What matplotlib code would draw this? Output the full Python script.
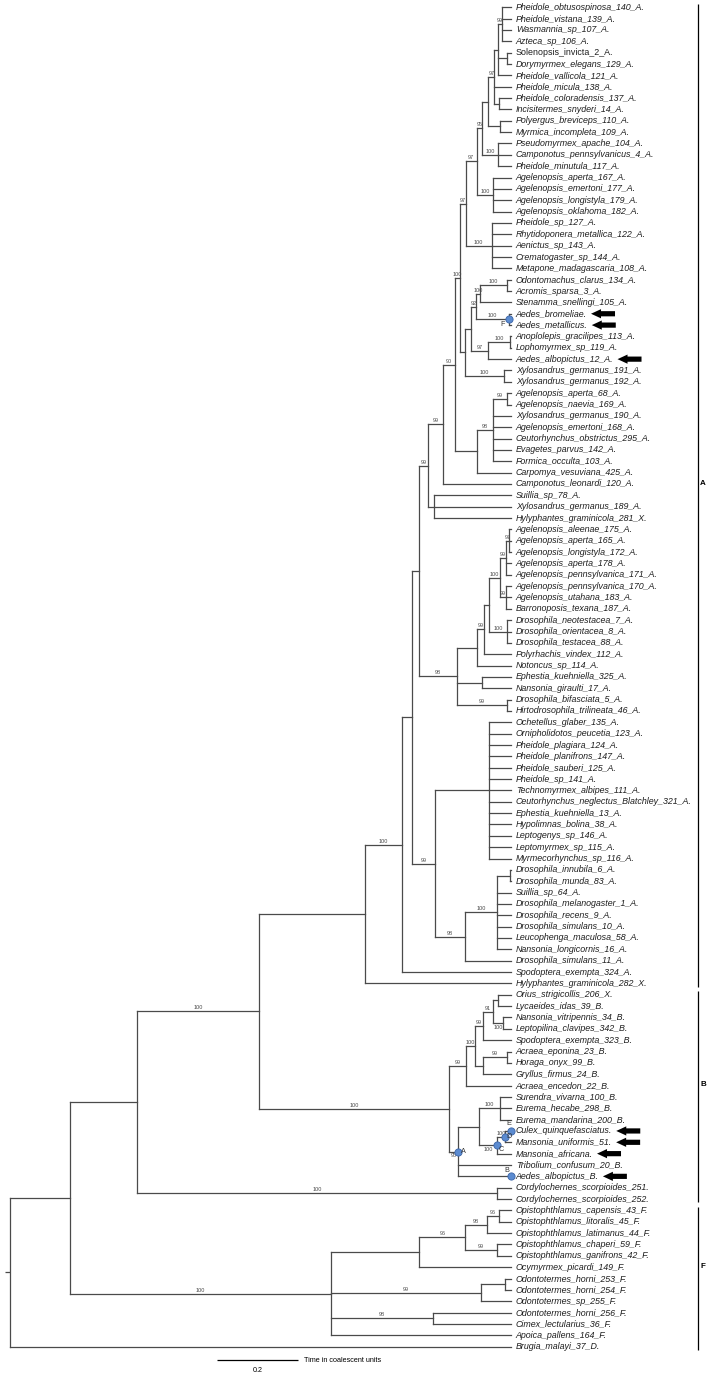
import matplotlib.pyplot as plt
from matplotlib.patches import Polygon

plt.rcParams['font.family'] = ['Liberation Sans', 'DejaVu Sans']

# tip labels, top to bottom
leaf_names = [
    "Pheidole_obtusospinosa_140_A.", "Pheidole_vistana_139_A.", "Wasmannia_sp_107_A.", "Azteca_sp_106_A.",
    "Solenopsis_invicta_2_A.", "Dorymyrmex_elegans_129_A.", "Pheidole_vallicola_121_A.", "Pheidole_micula_138_A.",
    "Pheidole_coloradensis_137_A.", "Incisitermes_snyderi_14_A.", "Polyergus_breviceps_110_A.",
    "Myrmica_incompleta_109_A.", "Pseudomyrmex_apache_104_A.", "Camponotus_pennsylvanicus_4_A.",
    "Pheidole_minutula_117_A.", "Agelenopsis_aperta_167_A.", "Agelenopsis_emertoni_177_A.",
    "Agelenopsis_longistyla_179_A.", "Agelenopsis_oklahoma_182_A.", "Pheidole_sp_127_A.",
    "Rhytidoponera_metallica_122_A.", "Aenictus_sp_143_A.", "Crematogaster_sp_144_A.",
    "Metapone_madagascaria_108_A.", "Odontomachus_clarus_134_A.", "Acromis_sparsa_3_A.",
    "Stenamma_snellingi_105_A.", "Aedes_bromeliae.", "Aedes_metallicus.", "Anoplolepis_gracilipes_113_A.",
    "Lophomyrmex_sp_119_A.", "Aedes_albopictus_12_A.", "Xylosandrus_germanus_191_A.",
    "Xylosandrus_germanus_192_A.", "Agelenopsis_aperta_68_A.", "Agelenopsis_naevia_169_A.",
    "Xylosandrus_germanus_190_A.", "Agelenopsis_emertoni_168_A.", "Ceutorhynchus_obstrictus_295_A.",
    "Evagetes_parvus_142_A.", "Formica_occulta_103_A.", "Carpomya_vesuviana_425_A.",
    "Camponotus_leonardi_120_A.", "Suillia_sp_78_A.", "Xylosandrus_germanus_189_A.",
    "Hylyphantes_graminicola_281_X.", "Agelenopsis_aleenae_175_A.", "Agelenopsis_aperta_165_A.",
    "Agelenopsis_longistyla_172_A.", "Agelenopsis_aperta_178_A.", "Agelenopsis_pennsylvanica_171_A.",
    "Agelenopsis_pennsylvanica_170_A.", "Agelenopsis_utahana_183_A.", "Barronoposis_texana_187_A.",
    "Drosophila_neotestacea_7_A.", "Drosophila_orientacea_8_A.", "Drosophila_testacea_88_A.",
    "Polyrhachis_vindex_112_A.", "Notoncus_sp_114_A.", "Ephestia_kuehniella_325_A.",
    "Nansonia_giraulti_17_A.", "Drosophila_bifasciata_5_A.", "Hirtodrosophila_trilineata_46_A.",
    "Ochetellus_glaber_135_A.", "Ornipholidotos_peucetia_123_A.", "Pheidole_plagiara_124_A.",
    "Pheidole_planifrons_147_A.", "Pheidole_sauberi_125_A.", "Pheidole_sp_141_A.",
    "Technomyrmex_albipes_111_A.", "Ceutorhynchus_neglectus_Blatchley_321_A.", "Ephestia_kuehniella_13_A.",
    "Hypolimnas_bolina_38_A.", "Leptogenys_sp_146_A.", "Leptomyrmex_sp_115_A.", "Myrmecorhynchus_sp_116_A.",
    "Drosophila_innubila_6_A.", "Drosophila_munda_83_A.", "Suillia_sp_64_A.", "Drosophila_melanogaster_1_A.",
    "Drosophila_recens_9_A.", "Drosophila_simulans_10_A.", "Leucophenga_maculosa_58_A.",
    "Nansonia_longicornis_16_A.", "Drosophila_simulans_11_A.", "Spodoptera_exempta_324_A.",
    "Hylyphantes_graminicola_282_X.", "Orius_strigicollis_206_X.", "Lycaeides_idas_39_B.",
    "Nansonia_vitripennis_34_B.", "Leptopilina_clavipes_342_B.", "Spodoptera_exempta_323_B.",
    "Acraea_eponina_23_B.", "Horaga_onyx_99_B.", "Gryllus_firmus_24_B.", "Acraea_encedon_22_B.",
    "Surendra_vivarna_100_B.", "Eurema_hecabe_298_B.", "Eurema_mandarina_200_B.",
    "Culex_quinquefasciatus.", "Mansonia_uniformis_51.", "Mansonia_africana.", "Tribolium_confusum_20_B.",
    "Aedes_albopictus_B.", "Cordylochernes_scorpioides_251.", "Cordylochernes_scorpioides_252.",
    "Opistophthlamus_capensis_43_F.", "Opistophthlamus_litoralis_45_F.", "Opistophthlamus_latimanus_44_F.",
    "Opistophthlamus_chaperi_59_F.", "Opistophthlamus_ganifrons_42_F.", "Ocymyrmex_picardi_149_F.",
    "Odontotermes_horni_253_F.", "Odontotermes_horni_254_F.", "Odontotermes_sp_255_F.",
    "Odontotermes_horni_256_F.", "Cimex_lectularius_36_F.", "Apoica_pallens_164_F.", "Brugia_malayi_37_D.",
]
upright_leaves = ["Solenopsis_invicta_2_A."]

# parent node of each tip, same order as leaf_names
leaf_parent = (["t1a"] * 4 + ["t6"] * 2 + ["t5", "t4"] + ["t9"] * 2 + ["t11"] * 2 + ["t13"] * 3
               + ["t16"] * 4 + ["t20"] * 5 + ["od"] * 2 + ["m4"] + ["Fdot"] * 2 + ["an"] * 2 + ["m3"]
               + ["xy"] * 2 + ["ag2"] * 2 + ["ag"] * 5 + ["A9", "A6"] + ["suil"] * 3
               + ["D8"] * 3 + ["D6"] * 2 + ["D7"] * 3 + ["dro"] * 3 + ["D3", "D2"] + ["eph"] * 2 + ["bif"] * 2
               + ["poly"] * 13 + ["P4"] * 2 + ["P3"] * 6 + ["P2", "A1", "A"]
               + ["B6"] * 2 + ["B7"] * 2 + ["B3"] + ["B8"] * 2 + ["B4", "B1"] + ["B10"] * 3
               + ["Ddot"] * 2 + ["Cdot"] + ["Adot"] * 2 + ["cord"] * 2
               + ["F7"] * 2 + ["F3"] + ["F4"] * 2 + ["F1"] + ["F8"] * 2 + ["F5"] + ["F6"] * 2 + ["F", "root"])

# internal nodes: id, parent, depth from root (coalescent units), support
node_ids = ["root", "abf", "ab", "core", "cord", "A", "B", "F", "A1", "A2", "A3", "A5", "suil", "A6", "A7",
            "A9", "ag", "ag2", "A8", "mid", "xy", "m1", "m3", "an", "m2", "Fdot", "m4", "od", "top", "t20",
            "t1", "t16", "t2", "t13", "t3", "t11", "t4", "t9", "t5", "t1a", "t6", "D1", "eph", "bif", "D2",
            "D3", "D4", "dro", "D5", "D7", "D6", "D8", "P", "poly", "P2", "P3", "P4", "B1", "B2", "B3", "B5",
            "B6", "B7", "B4", "B8", "Adot", "B9", "B10", "Cdot", "Ddot", "F1", "F2", "F3", "F7", "F4", "F5",
            "F8", "F6"]
node_parent = [None, "root", "abf", "ab", "ab", "core", "core", "abf", "A", "A1", "A2", "A3", "A5", "A5", "A6",
               "A7", "A9", "ag", "A7", "A8", "mid", "mid", "m1", "m3", "m1", "m2", "m2", "m4", "A8", "top",
               "top", "t1", "t1", "t2", "t2", "t3", "t3", "t4", "t4", "t5", "t5", "A3", "D1", "D1", "D1",
               "D2", "D3", "D4", "D4", "D5", "D5", "D6", "A2", "P", "P", "P2", "P3", "B", "B1", "B2", "B3",
               "B5", "B5", "B2", "B4", "B", "Adot", "B9", "B9", "Cdot", "F", "F1", "F2", "F3", "F2", "F",
               "F5", "F"]
node_height = [0.0, 0.148, 0.314, 0.614, 1.202, 0.877, 1.084, 0.793, 0.967, 0.992, 1.011, 1.031, 1.048, 1.070,
               1.099, 1.154, 1.192, 1.228, 1.111, 1.124, 1.220, 1.138, 1.180, 1.235, 1.151, 1.232, 1.161,
               1.226, 1.125, 1.189, 1.152, 1.193, 1.166, 1.204, 1.181, 1.210, 1.196, 1.208, 1.204, 1.214,
               1.228, 1.104, 1.165, 1.226, 1.152, 1.171, 1.183, 1.226, 1.210, 1.224, 1.224, 1.233, 1.049,
               1.183, 1.124, 1.202, 1.235, 1.125, 1.148, 1.169, 1.193, 1.206, 1.218, 1.167, 1.226, 1.105,
               1.159, 1.210, 1.202, 1.222, 1.011, 1.124, 1.177, 1.207, 1.202, 1.162, 1.222, 1.044]
node_support = [None, None, None, 100, 100, None, 100, 100, 100, None, None, 99, None, 99, 90,
                None, 98, 99, 100, None, 100, None, 97, 100, 92, 100, 100, 100, 97, 100,
                97, 100, 95, 100, None, None, 97, None, None, 99, None, 98, None, 99, None,
                99, None, 100, 100, 99, 99, 97, 99, None, 98, 100, None, 99, 100, 99, 91,
                None, 100, None, 99, 95, None, 100, 100, 100, None, 96, 98, 96, 99, 99,
                None, 98]
support_below = ["B7", "Adot", "Cdot"]
tip_height = 1.238

# highlighted nodes and arrows
marker_letters = ["F", "E", "D", "C", "A", "B"]
marker_at = ["Fdot", "Culex_quinquefasciatus.", "Ddot", "Cdot", "Adot", "Aedes_albopictus_B."]
arrow_leaves = ["Aedes_bromeliae.", "Aedes_metallicus.", "Aedes_albopictus_12_A.", "Culex_quinquefasciatus.",
                "Mansonia_uniformis_51.", "Mansonia_africana.", "Aedes_albopictus_B."]

# clade brackets on the right
group_names = ["A", "B", "F"]
group_first = ["Pheidole_obtusospinosa_140_A.", "Orius_strigicollis_206_X.", "Opistophthlamus_capensis_43_F."]
group_last = ["Hylyphantes_graminicola_282_X.", "Cordylochernes_scorpioides_252.", "Brugia_malayi_37_D."]

scale_length = 0.2

# ---- layout ----
W, H, DPI = 710, 1378, 100
XPX = 405.0          # pixels per coalescent unit
YPX = 11.35          # pixels per tip
x0px, y0px = 10.0, 7.3


def dx(p):
    return p / XPX


def dy(p):
    return p / YPX


fig = plt.figure(figsize=(W / DPI, H / DPI), dpi=DPI)
ax = fig.add_axes([0, 0, 1, 1])
ax.set_xlim(-x0px / XPX, (W - x0px) / XPX)
ax.set_ylim((H - y0px) / YPX, -y0px / YPX)
ax.axis('off')

children = {n: [] for n in node_ids}
for i, p in enumerate(leaf_parent):
    children[p].append(('leaf', i))
for n, p in zip(node_ids, node_parent):
    if p is not None:
        children[p].append(('node', n))
height = dict(zip(node_ids, node_height))
parent = dict(zip(node_ids, node_parent))
support = dict(zip(node_ids, node_support))
ypos, span = {}, {}


def place(n):
    ys = [c if k == 'leaf' else place(c) for k, c in children[n]]
    span[n] = (min(ys), max(ys))
    ypos[n] = (min(ys) + max(ys)) / 2
    return ypos[n]


place("root")

lc = '#4a4a4a'
lw = 0.9
hx0, hx1, hy, vx, vy0, vy1 = [], [], [], [], [], []
for n in node_ids:
    vx.append(height[n]); vy0.append(span[n][0]); vy1.append(span[n][1])
    if parent[n] is not None:
        hx0.append(height[parent[n]]); hx1.append(height[n]); hy.append(ypos[n])
for i, p in enumerate(leaf_parent):
    hx0.append(height[p]); hx1.append(tip_height); hy.append(i)
ax.hlines(hy, hx0, hx1, color=lc, lw=lw, capstyle='projecting')
ax.vlines(vx, vy0, vy1, color=lc, lw=lw, capstyle='projecting')
ax.hlines(ypos["root"], -dx(5), 0, color=lc, lw=lw)

# support values at branch middles
for n in node_ids:
    s = support[n]
    if s is None:
        continue
    xm = (height[parent[n]] + height[n]) / 2
    if n in support_below:
        ax.text(xm, ypos[n] + dy(1.5), str(s), fontsize=4.0, color='#4a4a4a', ha='center', va='top')
    else:
        ax.text(xm, ypos[n] - dy(1.0), str(s), fontsize=4.0, color='#4a4a4a', ha='center', va='bottom')

# tip labels
tip_text = {}
for i, name in enumerate(leaf_names):
    style = 'normal' if name in upright_leaves else 'italic'
    tip_text[name] = ax.text(tip_height + dx(4.5), i, name, fontsize=6.4, style=style,
                             color='#1e1e1e', ha='left', va='center')

# marked nodes
letter_off = {"F": (-6, 5), "E": (-3, -7), "D": (4.5, 0), "C": (4.5, 4.5), "A": (5.5, 0), "B": (-5, -6)}
for letter, where in zip(marker_letters, marker_at):
    if where in ypos:
        mx, my = height[where], ypos[where]
    else:
        mx, my = tip_height, leaf_names.index(where)
    ax.plot(mx, my, 'o', ms=5.2, mfc='#5b8bd0', mec='#3a64a8', mew=0.6, zorder=5)
    ox, oy = letter_off[letter]
    ax.text(mx + dx(ox), my + dy(oy), letter, fontsize=5.2, color='#333333', ha='center', va='center', zorder=6)

# arrows after the tip labels
fig.canvas.draw()
inv = ax.transData.inverted()
for name in arrow_leaves:
    bb = tip_text[name].get_window_extent()
    xa = inv.transform((bb.x1, 0))[0] + dx(4)
    ya = leaf_names.index(name)
    L, hl, hh, sh = dx(24), dx(10), dy(4.6), dy(2.6)
    pts = [(xa, ya), (xa + hl, ya - hh), (xa + hl, ya - sh), (xa + L, ya - sh),
           (xa + L, ya + sh), (xa + hl, ya + sh), (xa + hl, ya + hh)]
    ax.add_patch(Polygon(pts, closed=True, color='black', lw=0))

# clade brackets
bx = dx(698 - x0px)
for g, a, b in zip(group_names, group_first, group_last):
    ia, ib = leaf_names.index(a), leaf_names.index(b)
    ax.vlines(bx, ia - 0.3, ib + 0.3, color='black', lw=0.9)
    ax.text(bx + dx(5), (ia + ib) / 2 - dy(12), g, fontsize=5.8, fontweight='bold', ha='center', va='center')

# scale bar
sx = dx(217 - x0px)
sy = (1360 - y0px) / YPX
ax.hlines(sy, sx, sx + scale_length, color='black', lw=0.9)
ax.text(sx + scale_length / 2, sy + dy(10), str(scale_length), fontsize=5.2, ha='center', va='center')
ax.text(sx + scale_length + dx(6), sy, "Time in coalescent units", fontsize=5.2, ha='left', va='center')

fig.savefig('out.png', dpi=DPI)
